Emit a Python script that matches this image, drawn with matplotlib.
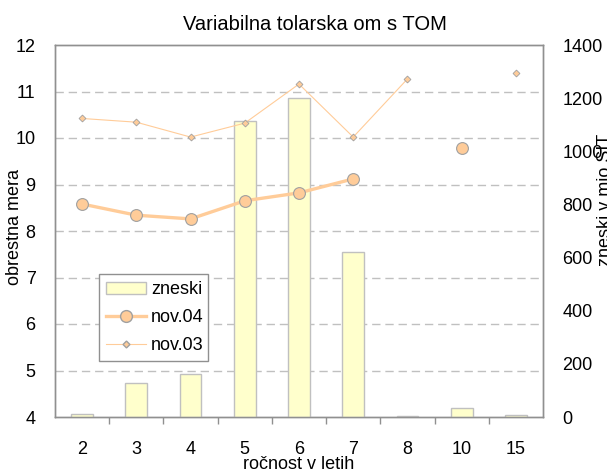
import numpy as np
import matplotlib
matplotlib.use('Agg')
from matplotlib import pyplot as plt
from matplotlib.patches import Patch
from matplotlib.lines import Line2D

plt.rcParams['font.family'] = ['Liberation Sans', 'DejaVu Sans']

# Data
categories = ['2', '3', '4', '5', '6', '7', '8', '10', '15']
zneski = [11, 129, 162, 1114, 1199, 620, 2, 33, 7]
nov04 = [8.58, 8.34, 8.26, 8.65, 8.82, 9.12, np.nan, 9.78, np.nan]
nov03 = [10.42, 10.34, 10.02, 10.32, 11.16, 10.02, 11.27, np.nan, 11.40]
left_grid = [5, 6, 7, 8, 9, 10, 11]

orange = '#FFCC99'
edge_gray = '#A0A0A0'
spine_gray = '#909090'

fig = plt.figure(figsize=(6.07, 4.75), dpi=100)
ax = fig.add_axes([55 / 607, 58 / 475, 488 / 607, 372 / 475])
ax2 = ax.twinx()

x = np.arange(len(categories))

# bars on the right axis, drawn behind the lines
ax2.bar(x, zneski, width=0.4, color='#FFFFCC', edgecolor='#C0C0C0',
        linewidth=1, zorder=3)
ax2.hlines(left_grid, 0, 1, transform=ax.get_yaxis_transform(),
           colors='#C0C0C0', linewidth=1, linestyles=(0, (6, 3.5)), zorder=1)
ax2.set_ylim(0, 1400)
ax2.set_yticks(range(0, 1401, 200))

ax.set_zorder(ax2.get_zorder() + 1)
ax.patch.set_visible(False)

ax.plot(x, nov04, color=orange, linewidth=2.4, marker='o', markersize=8.5,
        markerfacecolor=orange, markeredgecolor=edge_gray, markeredgewidth=0.8)
ax.plot(x, nov03, color=orange, linewidth=0.8, marker='D', markersize=3.5,
        markerfacecolor=orange, markeredgecolor=edge_gray, markeredgewidth=0.6)

ax.set_ylim(4, 12)
ax.set_xlim(-0.5, len(categories) - 0.5)
ax.set_xticks(x)
ax.set_xticklabels(categories)
ax.set_xticks(np.arange(0.5, len(categories) - 1, 1), minor=True)
ax.tick_params(axis='x', which='major', length=0, pad=17, labelsize=13)
ax.tick_params(axis='x', which='minor', length=5, direction='out',
               color=spine_gray, width=1)
ax.tick_params(axis='y', length=0, pad=14, labelsize=13)
ax2.tick_params(axis='y', length=0, pad=14, labelsize=13)

for a in (ax, ax2):
    for s in a.spines.values():
        s.set_color(spine_gray)
        s.set_linewidth(1)

ax.set_xlabel('ročnost v letih', fontsize=13, labelpad=-1)
fig.text(15 / 607, 1 - 227 / 475, 'obrestna mera', rotation=90,
         ha='center', va='center', fontsize=13)
fig.text(597 / 607, 1 - 200 / 475, 'zneski v mio SIT', rotation=90,
         ha='left', va='center', fontsize=13)
fig.text(315 / 607, 1 - 24 / 475, 'Variabilna tolarska om s TOM',
         ha='center', va='center', fontsize=14.5)

handles = [
    Patch(facecolor='#FFFFCC', edgecolor='#C0C0C0'),
    Line2D([], [], color=orange, linewidth=2.4, marker='o', markersize=8.5,
           markerfacecolor=orange, markeredgecolor=edge_gray),
    Line2D([], [], color=orange, linewidth=0.8, marker='D', markersize=3.5,
           markerfacecolor=orange, markeredgecolor=edge_gray),
]
leg = ax.legend(handles, ['zneski', 'nov.04', 'nov.03'], loc='lower left',
                bbox_to_anchor=(0.09, 0.15, 0.224, 0.256), mode='expand',
                fontsize=13, fancybox=False, framealpha=1,
                edgecolor=spine_gray, borderaxespad=0, handlelength=2.2,
                handletextpad=0.3, labelspacing=0.6)
leg.get_frame().set_linewidth(1)

fig.savefig('out.png', dpi=100)
